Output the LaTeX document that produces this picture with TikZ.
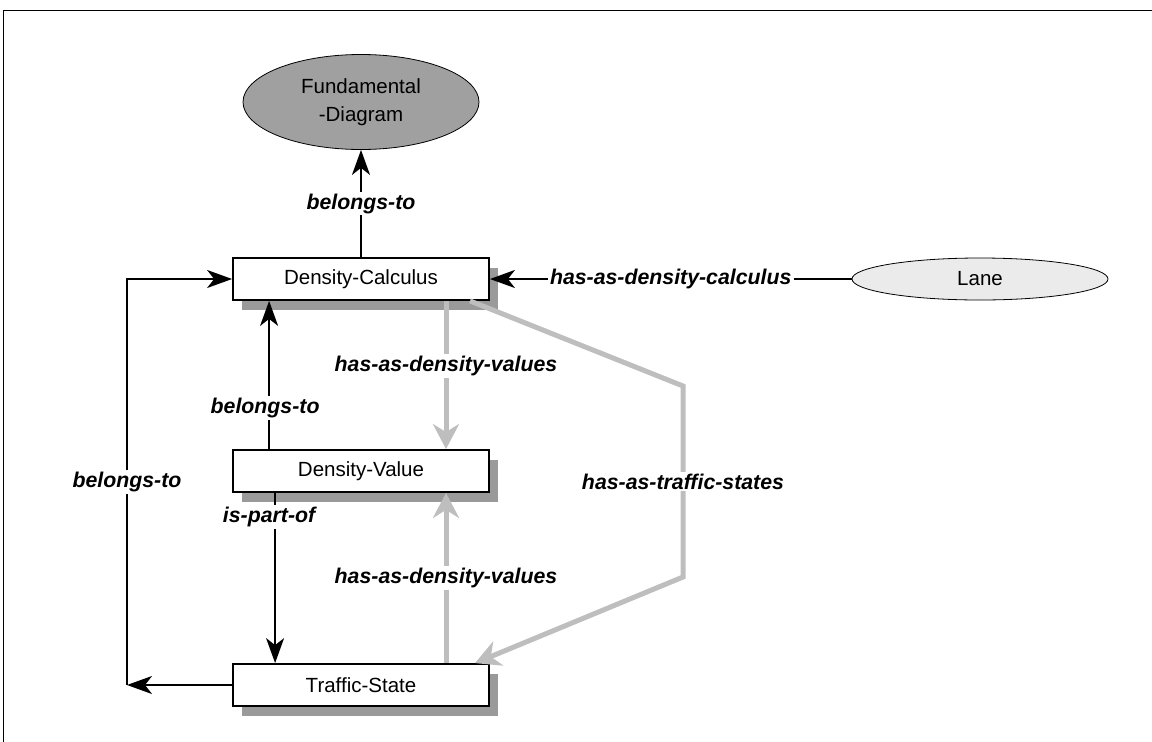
\documentclass[tikz,border=0pt]{standalone}
\usepackage{fontspec}
\setmainfont{Liberation Sans}
\usetikzlibrary{shapes.geometric,shadows,arrows.meta}

\definecolor{shadowgray}{HTML}{9A9A9A}
\definecolor{linkgray}{HTML}{BEBEBE}
\definecolor{classgray}{HTML}{A0A0A0}
\definecolor{lanegray}{HTML}{EBEBEB}

\tikzset{
    concept/.style={draw, line width=1.8pt, fill=white, minimum width=256pt, minimum height=42pt,
        general shadow={fill=shadowgray, shadow xshift=9pt, shadow yshift=-10pt},
        font=\fontsize{20.5}{24}\selectfont},
    oval/.style={shape=ellipse, draw, line width=0.8pt, inner sep=0pt,
        font=\fontsize{20.5}{28}\selectfont},
    rel/.style={fill=white, inner sep=2pt, font=\fontsize{21.3}{24}\selectfont\bfseries\itshape},
    link/.style={line width=1.6pt, -{Stealth[length=25pt,width=18pt,inset=7pt]}},
    graylink/.style={draw=linkgray, line width=5pt, -{Stealth[length=25pt,width=26pt,inset=8pt]}}
}

\begin{document}
\begin{tikzpicture}[x=1pt, y=-1pt]
    \useasboundingbox (0,0) rectangle (1152,742);
    \draw[line width=1pt] (3,742) -- (3,10) -- (1152,10);

    \node[oval, fill=classgray, minimum width=236pt, minimum height=95pt, align=center] (fd) at (361,102) {Fundamental\\-Diagram};
    \node[concept] (dc) at (361,279) {Density-Calculus};
    \node[concept] (dv) at (361,471) {Density-Value};
    \node[concept] (ts) at (361,685) {Traffic-State};
    \node[oval, fill=lanegray, minimum width=256pt, minimum height=42pt] (lane) at (980,279) {Lane};

    \coordinate (b1) at (127,685);
    \coordinate (b2) at (127,279);
    \coordinate (c1) at (683,386);
    \coordinate (c2) at (683,577);

    \draw[graylink] ([xshift=85pt]dc.south) -- node[rel, pos=0.44] {has-as-density-values} ([xshift=85pt]dv.north);
    \draw[graylink] ([xshift=85pt]ts.north) -- node[rel] {has-as-density-values} ([xshift=85pt]dv.south);
    \draw[graylink] ([xshift=109pt]dc.south) -- (c1) -- node[rel] {has-as-traffic-states} (c2) -- ([xshift=114pt]ts.north);

    \draw[link] (dc) -- node[rel] {belongs-to} (fd);
    \draw[link] (lane) -- node[rel] {has-as-density-calculus} (dc);
    \draw[link] ([xshift=37pt]dv.north west) -- node[rel, pos=0.28, xshift=-4pt] {belongs-to} ([xshift=37pt]dc.south west);
    \draw[link] ([xshift=43pt]dv.south west) -- node[rel, pos=0.14, xshift=-6pt] {is-part-of} ([xshift=43pt]ts.north west);
    \draw[link] (ts) -- (b1);
    \draw[link] (b1) -- node[rel] {belongs-to} (b2) -- (dc);
\end{tikzpicture}
\end{document}
